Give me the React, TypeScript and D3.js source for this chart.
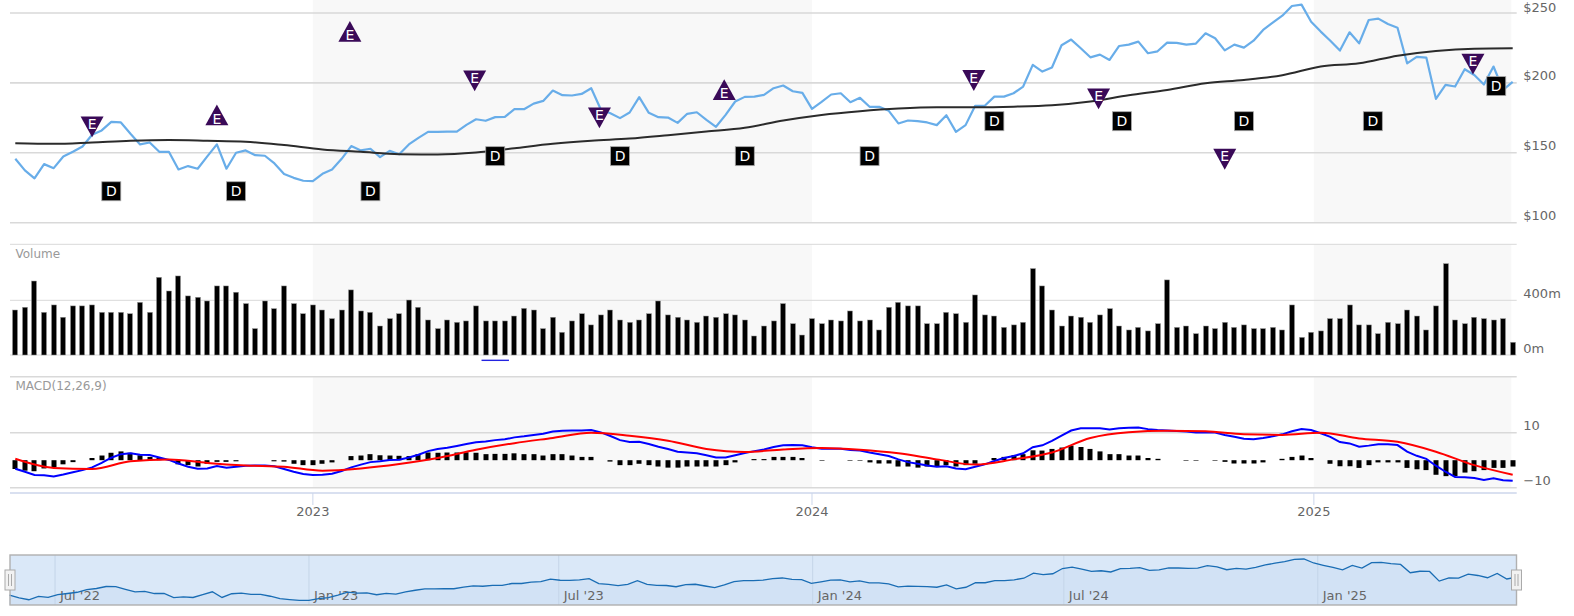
import React from "react";
import * as d3 from "d3";

const WIDTH = 1574;
const HEIGHT = 616;

// weekly closes in dollars, first week 2022-05-29
const closes = [
  145.7, 137.4, 131.7, 141.9, 139, 147.4, 150.7, 154.5, 162.9, 166, 172.1, 171.7, 163.6, 156, 157.4, 150.7, 150.7, 138.1, 140.5, 138.6,
  147.4, 156, 138.6, 150, 151.7, 148.3, 147.9, 142.4, 134.8, 132.1, 130, 129.8, 135, 138.1, 145.7, 154.8, 151.7, 152.9, 146.9, 151.4,
  149, 156, 160.7, 165, 165, 165.2, 165.2, 170, 174, 172.9, 175.5, 175.7, 181.2, 181.2, 185.2, 187.1, 194.5, 191.2, 191, 192.1,
  196.2, 181, 178.3, 174.8, 178.8, 189.8, 178.6, 175.5, 175.2, 171.4, 177.9, 179, 173.6, 168.6, 177.1, 186.7, 190, 190.2, 191.4, 196.2,
  198.1, 194, 192.9, 181.4, 186.4, 191.7, 192.6, 186.2, 189.3, 182.9, 182.9, 180, 171, 173.1, 172.6, 171.7, 169.8, 176.9, 165, 169.8,
  183.6, 183.6, 190.2, 190.2, 192.6, 197.4, 212.9, 208.1, 211, 226.9, 231, 224.8, 218.3, 220.2, 216.4, 226.4, 227.4, 229.5, 221.2, 222.6,
  228.8, 228.6, 227.4, 228.1, 235.5, 231.9, 223.3, 227.4, 225.2, 230.2, 237.9, 243.1, 248.1, 255, 256, 243.8, 236.7, 230.2, 223.1, 236.2,
  228.3, 245, 246, 242.1, 239.5, 214, 218.6, 218.1, 188.6, 198.6, 197.4, 209.8, 205.7, 198.8, 211.7, 195, 200.7,
];

// moving average, one reading every fourth week
const movingAvg = [
  156.9, 156.4, 157.4, 158.6, 159.1, 158.6, 157.9, 155.5, 152.4, 150.7, 149, 148.8, 150.2, 153.3, 156.4, 158.6, 160.2, 162.6, 165.2, 167.9,
  173.1, 177.1, 179.8, 181.7, 182.6, 182.6, 183, 184, 186.7, 191.2, 195, 199.8, 202.1, 205.5, 211.7, 214, 219.5, 222.9, 224.5, 224.8,
];

// volume in millions
const volumes = [
  329, 349, 541, 312, 366, 276, 359, 359, 366, 312, 312, 312, 302, 385, 312, 568, 468, 578, 432, 422,
  395, 505, 505, 459, 376, 193, 395, 339, 505, 376, 302, 366, 329, 266, 329, 476, 322, 312, 212, 266,
  302, 402, 349, 256, 193, 256, 239, 249, 359, 249, 249, 249, 285, 341, 329, 193, 276, 166, 249, 302,
  220, 293, 329, 256, 239, 256, 302, 395, 293, 276, 256, 239, 285, 276, 302, 293, 256, 139, 212, 249,
  376, 229, 146, 266, 229, 256, 249, 322, 249, 256, 183, 349, 385, 359, 359, 229, 229, 312, 302, 239,
  439, 293, 285, 202, 220, 239, 632, 505, 329, 212, 285, 276, 239, 293, 339, 212, 183, 202, 176, 229,
  549, 202, 212, 156, 212, 193, 239, 202, 220, 193, 193, 202, 183, 366, 129, 166, 176, 266, 266, 366,
  220, 220, 156, 239, 229, 329, 285, 183, 359, 668, 256, 229, 276, 266, 256, 266, 93,
];

const macdLine = [
  -3.1, -4.2, -5.4, -5.5, -5.9, -5.2, -4.4, -3.6, -2.6, -1, 0.9, 2.2, 2.5, 2, 1.9, 1, 0.1, -1.2, -2.4, -3.1,
  -3, -2.1, -2.7, -2.4, -2, -1.9, -1.9, -2.2, -3.2, -4.2, -5, -5.4, -5.3, -4.9, -3.9, -2.6, -1.6, -0.7, -0.4, 0.1,
  0.2, 1, 2, 3.3, 4.1, 4.5, 5.2, 5.9, 6.5, 6.8, 7.3, 7.6, 8.3, 8.7, 9.2, 9.6, 10.4, 10.7, 10.8, 10.8,
  11, 10.1, 8.8, 7.3, 6.6, 6.7, 5.9, 4.9, 4.1, 3.1, 2.8, 2.5, 1.8, 1, 1, 1.8, 2.6, 3.3, 3.9, 4.8,
  5.4, 5.5, 5.4, 4.7, 4.2, 4.2, 4.2, 3.7, 3.5, 2.8, 2.2, 1.5, 0.3, -0.7, -1.3, -1.9, -2.4, -2.2, -3, -3.3,
  -2.4, -1.5, -0.3, 0.8, 1.5, 2.5, 4.7, 5.4, 7, 8.9, 10.8, 11.6, 11.6, 11.6, 11.2, 11.6, 11.8, 11.9, 11.3, 11,
  10.8, 10.6, 10.4, 10.1, 10.2, 10.1, 9.2, 8.5, 7.8, 7.6, 8.1, 8.7, 9.4, 10.5, 11.3, 11, 9.8, 8.5, 6.6, 6.1,
  4.9, 5.3, 5.8, 5.8, 5.5, 3.1, 1.6, 0.5, -2, -4.2, -6.1, -6.2, -6.5, -7.2, -6.6, -7.3, -7.5,
];

// signal line, one reading every fourth week
const signalLine = [
  0.5, -2.8, -3.2, -0.4, 0.3, -1, -1.9, -2.4, -3.8, -3, -1.4, 0.8, 3.8, 6.2, 8.1, 10, 8.9, 7.1, 4.1, 3,
  3.9, 4.4, 3.8, 2.5, 0.3, -1.6, 0.3, 2.8, 8.1, 10.2, 10.7, 10.5, 9.4, 9.2, 10, 7.9, 6.7, 3.1, -1.8, -5.3,
];

const macdHist = [
  -3.2, -3.8, -4, -3, -2.5, -1.5, -0.7, 0, 0.8, 1.7, 2.7, 3.2, 2.7, 1.8, 1.2, 0.8, 0, -1.5, -1.8, -2.3,
  -1.3, -0.6, -0.6, -0.4, 0, 0, 0, -0.4, -0.5, -1.3, -1.8, -1.8, -1.3, -0.8, 0, 1.5, 1.7, 2.2, 1.8, 1.7,
  1.6, 1.5, 2.2, 2.8, 2.7, 2.8, 2.8, 2.9, 2.7, 2.2, 2.3, 2.3, 2.5, 2.2, 2.2, 1.7, 2.2, 2.2, 1.7, 1.2,
  1.2, 0, -0.5, -1.8, -1.8, -1.3, -1.8, -2.3, -2.7, -2.7, -2.3, -2.3, -2.3, -2.3, -1.8, -0.8, 0, 0.4, 0.4, 1.2,
  1.2, 1.2, 0.8, 0, -0.2, 0, 0, -0.2, -0.2, -0.8, -1.2, -1.2, -2.3, -2.3, -2.7, -2.3, -2.3, -1.8, -2.3, -1.8,
  -1.3, 0, 0.8, 1.2, 1.8, 2.2, 3.6, 3.5, 4.1, 4.6, 5.3, 4.8, 4.1, 3.2, 2.2, 2.2, 1.7, 1.7, 0.8, 0.5,
  0, 0, -0.2, -0.2, 0, -0.2, -0.6, -1.2, -1.2, -1.2, -0.8, 0, 0.5, 1.2, 1.7, 0.8, 0, -1.3, -2.2, -2.2,
  -2.8, -1.8, -0.8, -0.8, -0.8, -2.8, -3.3, -3.6, -5.3, -5.8, -5.8, -4.5, -4, -3.6, -2.8, -2.8, -2.3,
];

const dividendDates = [
  "2022-08-07", "2022-11-06", "2023-02-12", "2023-05-14", "2023-08-13", "2023-11-12",
  "2024-02-11", "2024-05-12", "2024-08-13", "2024-11-10", "2025-02-12", "2025-05-13",
];
const dividendLevels = [122.5, 122.5, 122.5, 147.6, 147.6, 147.6, 147.6, 172.6, 172.6, 172.6, 172.6, 197.7];

const earningsDates = [
  "2022-07-24", "2022-10-23", "2023-01-28", "2023-04-29", "2023-07-29",
  "2023-10-28", "2024-04-27", "2024-07-27", "2024-10-27", "2025-04-26",
];
const earningsLevels = [168.5, 177.1, 236.8, 201.5, 175, 195.2, 201.7, 188.6, 145.4, 213.5];
const earningsUp = [false, true, true, false, false, true, false, false, false, false];

const priceTicks = [100, 150, 200, 250];
const volumeTicks = [0, 400];
const macdTicks = [-10, 10];
const yearLabels = ["2023", "2024", "2025"];
const yearTickDates = ["2023-01-01", "2023-12-31", "2024-12-31"];
const navTickDates = ["2022-07-01", "2023-01-01", "2023-07-01", "2024-01-01", "2024-07-01", "2025-01-01"];
const navTickLabels = ["Jul '22", "Jan '23", "Jul '23", "Jan '24", "Jul '24", "Jan '25"];

const FONT = "'DejaVu Sans', sans-serif";
const GRID = "#d9d9d9";
const AXIS_LINE = "#ccd6eb";
const LABEL = "#666666";
const PURPLE = "#3a0a58";

const parseDay = d3.timeParse("%Y-%m-%d");
const toDate = (s: string) => parseDay(s) as Date;

const start = toDate("2022-05-29");
const weeks = closes.map((_, i) => d3.timeDay.offset(start, i * 7));
const lastWeek = weeks[weeks.length - 1];

const PLOT_LEFT = 10;
const PLOT_RIGHT = 1516.7;
const LABEL_X = 1523.3;

const x = d3.scaleTime().domain([start, lastWeek]).range([15.3, 1512.7]);
const navX = d3.scaleTime().domain([start, lastWeek]).range([9.5, 1516.5]);

const priceY = d3.scaleLinear().domain([100, 250]).range([222.7, 13]);
const volY = d3.scaleLinear().domain([0, 400]).range([355, 300.3]);
const macdY = d3.scaleLinear().domain([-10, 10]).range([487.7, 432.7]);
const navY = d3.scaleLinear().domain([130, 256]).range([600.3, 559]);

const PRICE_BOTTOM = priceY(100);
const VOL_TOP = 244.3;
const MACD_TOP = 376.7;

const priceLine = d3.line<number>().x((_, i) => x(weeks[i])).y((d) => priceY(d));
const navLine = d3.line<number>().x((_, i) => navX(weeks[i])).y((d) => navY(d));
const navArea = d3
  .area<number>()
  .x((_, i) => navX(weeks[i]))
  .y0(605)
  .y1((d) => navY(d));
const avgLine = d3
  .line<number>()
  .x((_, i) => x(weeks[i * 4]))
  .y((d) => priceY(d))
  .curve(d3.curveMonotoneX);
const macdPath = d3.line<number>().x((_, i) => x(weeks[i])).y((d) => macdY(d));
const signalPath = d3
  .line<number>()
  .x((_, i) => x(weeks[i * 4]))
  .y((d) => macdY(d))
  .curve(d3.curveMonotoneX);

function trianglePath(cx: number, cy: number, up: boolean) {
  const p = d3.path();
  const half = 11.5;
  const rise = 10.4;
  const dir = up ? -1 : 1;
  p.moveTo(cx, cy + dir * rise);
  p.lineTo(cx - half, cy - dir * rise);
  p.lineTo(cx + half, cy - dir * rise);
  p.closePath();
  return p.toString();
}

const bands: [Date, Date][] = [
  [toDate(yearTickDates[0]), toDate(yearTickDates[1])],
  [toDate(yearTickDates[2]), toDate("2025-05-24")],
];

const panels: [number, number][] = [
  [0, PRICE_BOTTOM],
  [VOL_TOP, volY(0)],
  [MACD_TOP, macdY(-10)],
];

const NAV_LEFT = navX.range()[0] + 0.5;
const NAV_RIGHT = navX.range()[1];

const Handle: React.FC<{ cx: number }> = ({ cx }) => (
  <g>
    <rect x={cx - 5} y={570} width={10} height={20} fill="#f2f2f2" stroke="#aaaaaa" />
    <line x1={cx - 1.5} x2={cx - 1.5} y1={574} y2={586} stroke="#aaaaaa" />
    <line x1={cx + 1.5} x2={cx + 1.5} y1={574} y2={586} stroke="#aaaaaa" />
  </g>
);

export default function App() {
  return (
    <svg
      width={WIDTH}
      height={HEIGHT}
      style={{ position: "absolute", left: 0, top: 0, background: "#fff" }}
      fontFamily={FONT}
    >
      {/* alternate year bands */}
      {panels.map(([top, bottom], p) =>
        bands.map(([a, b], i) => (
          <rect key={`${p}-${i}`} x={x(a)} y={top} width={x(b) - x(a)} height={bottom - top} fill="#f8f8f8" />
        ))
      )}

      {/* price panel */}
      {priceTicks.map((t) => (
        <g key={t}>
          <line x1={PLOT_LEFT} x2={PLOT_RIGHT} y1={priceY(t)} y2={priceY(t)} stroke={GRID} strokeWidth={1.6} />
          <text x={LABEL_X} y={Math.max(priceY(t) - 3, 11.5)} fontSize={13} fill={LABEL}>
            ${t}
          </text>
        </g>
      ))}
      <path d={priceLine(closes) ?? ""} fill="none" stroke="#68ade9" strokeWidth={2.2} strokeLinejoin="round" />
      <path d={avgLine(movingAvg) ?? ""} fill="none" stroke="#2b2b2b" strokeWidth={2} />

      {earningsDates.map((d, i) => {
        const cx = x(toDate(d));
        const cy = priceY(earningsLevels[i]);
        const up = earningsUp[i];
        return (
          <g key={d}>
            <path d={trianglePath(cx, cy, up)} fill={PURPLE} />
            <text x={cx} y={cy + (up ? 8.7 : 2.2)} fontSize={14} fill="#fff" textAnchor="middle">
              E
            </text>
          </g>
        );
      })}

      {dividendDates.map((d, i) => {
        const cx = x(toDate(d));
        const cy = priceY(dividendLevels[i]);
        return (
          <g key={d}>
            <rect x={cx - 9.5} y={cy - 9.5} width={19} height={19} fill="#000" stroke="#a8a8a8" strokeWidth={0.8} />
            <text x={cx} y={cy + 5} fontSize={14} fill="#fff" textAnchor="middle">
              D
            </text>
          </g>
        );
      })}

      {/* volume panel */}
      <line x1={PLOT_LEFT} x2={PLOT_RIGHT} y1={VOL_TOP} y2={VOL_TOP} stroke={GRID} strokeWidth={1} />
      {volumeTicks.map((t) => (
        <g key={t}>
          <line x1={PLOT_LEFT} x2={PLOT_RIGHT} y1={volY(t)} y2={volY(t)} stroke={GRID} strokeWidth={1} />
          <text x={LABEL_X} y={volY(t) - 2} fontSize={13} fill={LABEL}>
            {t}m
          </text>
        </g>
      ))}
      <text x={15.5} y={257.5} fontSize={12} fill="#999999">
        Volume
      </text>
      {volumes.map((v, i) => (
        <rect
          key={i}
          x={Math.round(x(weeks[i])) - 2.5}
          y={volY(v)}
          width={5}
          height={volY(0) - volY(v)}
          fill="#000"
          stroke="#999999"
          strokeWidth={0.5}
        />
      ))}
      <line
        x1={x(toDate("2023-05-04"))}
        x2={x(toDate("2023-05-24"))}
        y1={volY(-39)}
        y2={volY(-39)}
        stroke="#2424e0"
        strokeWidth={1.4}
      />

      {/* MACD panel */}
      <line x1={PLOT_LEFT} x2={PLOT_RIGHT} y1={MACD_TOP} y2={MACD_TOP} stroke={GRID} strokeWidth={1.4} />
      {macdTicks.map((t) => (
        <g key={t}>
          <line x1={PLOT_LEFT} x2={PLOT_RIGHT} y1={macdY(t)} y2={macdY(t)} stroke={GRID} strokeWidth={1.4} />
          <text x={LABEL_X} y={macdY(t) - 3} fontSize={13} fill={LABEL}>
            {t < 0 ? `\u2212${-t}` : t}
          </text>
        </g>
      ))}
      <text x={15.5} y={390} fontSize={12} fill="#999999">
        MACD(12,26,9)
      </text>
      {macdHist.map((h, i) =>
        h === 0 ? null : (
          <rect
            key={i}
            x={Math.round(x(weeks[i])) - 2.5}
            y={Math.min(macdY(h), macdY(0))}
            width={5}
            height={Math.abs(macdY(h) - macdY(0))}
            fill="#000"
          />
        )
      )}
      <path d={macdPath(macdLine) ?? ""} fill="none" stroke="#0000ff" strokeWidth={2} />
      <path d={signalPath(signalLine) ?? ""} fill="none" stroke="#ff0000" strokeWidth={2} />

      {/* date axis */}
      <line x1={PLOT_LEFT} x2={PLOT_RIGHT} y1={493} y2={493} stroke={AXIS_LINE} strokeWidth={1.4} />
      {yearLabels.map((y, i) => {
        const tx = x(toDate(yearTickDates[i]));
        return (
          <g key={y}>
            <line x1={tx} x2={tx} y1={493} y2={505} stroke={AXIS_LINE} />
            <text x={tx} y={516} fontSize={13} fill={LABEL} textAnchor="middle">
              {y}
            </text>
          </g>
        );
      })}

      {/* navigator */}
      <rect x={NAV_LEFT} y={555} width={NAV_RIGHT - NAV_LEFT} height={50} fill="#dae8f8" />
      <path d={navArea(closes) ?? ""} fill="#d2e2f5" />
      {navTickDates.map((d, i) => {
        const tx = navX(toDate(d));
        return (
          <g key={d}>
            <line x1={tx} x2={tx} y1={555} y2={605} stroke="#c4d5e8" />
            <text x={tx + 5} y={600} fontSize={13} fill={LABEL}>
              {navTickLabels[i]}
            </text>
          </g>
        );
      })}
      <path d={navLine(closes) ?? ""} fill="none" stroke="#1a6db4" strokeWidth={1.3} />
      <rect
        x={NAV_LEFT}
        y={555}
        width={NAV_RIGHT - NAV_LEFT}
        height={50}
        fill="none"
        stroke="#b0b0b0"
        strokeWidth={1.4}
      />
      <Handle cx={NAV_LEFT} />
      <Handle cx={NAV_RIGHT} />
    </svg>
  );
}
